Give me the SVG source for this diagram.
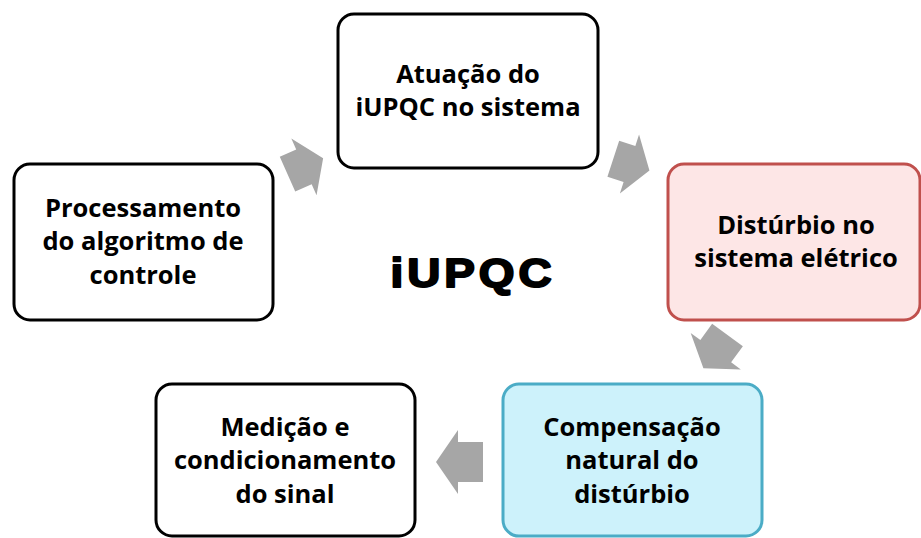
<svg xmlns="http://www.w3.org/2000/svg" width="921" height="538" viewBox="0 0 921 538">
<style>
.box{fill:#fff;stroke:#000;stroke-width:3}
.red{fill:#fde6e6;stroke:#c0504d}
.blue{fill:#cdf2fb;stroke:#4bacc6}
.t{font-family:"Open Sans","Liberation Sans",sans-serif;font-weight:bold;font-size:25.5px;fill:#000;text-anchor:middle}
.arr{fill:#a6a6a6}
</style>
<rect width="921" height="538" fill="#fff"/>
<g id="connectors">
<polygon class="arr" transform="translate(287.5,174.2) rotate(-24)" points="0,-19 18,-19 18,-31 39,0 18,31 18,19 0,19"/>
<polygon class="arr" transform="translate(613.3,158.8) rotate(18)" points="0,-19 17,-19 17,-31 38,0 17,31 17,19 0,19"/>
<polygon class="arr" transform="translate(727.5,335) rotate(126)" points="0,-19 20,-19 20,-31 41,0 20,31 20,19 0,19"/>
<polygon class="arr" transform="translate(483,462) rotate(180)" points="0,-20 25,-20 25,-32 47,0 25,32 25,20 0,20"/>
</g>
<g id="atuacao">
<rect class="box" x="338" y="14" width="260" height="154" rx="16"/>
<text class="t" x="468" y="83">Atuação do</text>
<text class="t" x="468" y="116">iUPQC no sistema</text>
</g>
<g id="disturbio">
<rect class="box red" x="668" y="164" width="252" height="156" rx="16"/>
<text class="t" x="796" y="234">Distúrbio no</text>
<text class="t" x="796" y="267">sistema elétrico</text>
</g>
<g id="compensacao">
<rect class="box blue" x="503" y="384" width="259" height="152" rx="16"/>
<text class="t" x="632" y="436">Compensação</text>
<text class="t" x="632" y="469">natural do</text>
<text class="t" x="632" y="503">distúrbio</text>
</g>
<g id="medicao">
<rect class="box" x="156" y="384" width="259" height="152" rx="16"/>
<text class="t" x="285" y="436">Medição e</text>
<text class="t" x="285" y="469">condicionamento</text>
<text class="t" x="285" y="503">do sinal</text>
</g>
<g id="processamento">
<rect class="box" x="14" y="164" width="259" height="156" rx="16"/>
<text class="t" x="143" y="217">Processamento</text>
<text class="t" x="143" y="250">do algoritmo de</text>
<text class="t" x="143" y="284">controle</text>
</g>
<g id="title">
<text transform="translate(473,287) scale(1.12,1)" x="0" y="0" font-family="'Liberation Sans',Arial,sans-serif" font-weight="bold" font-size="41" letter-spacing="3.5" stroke="#000" stroke-width="2" stroke-linejoin="round" text-anchor="middle" fill="#000">iUPQC</text>
</g>
</svg>
